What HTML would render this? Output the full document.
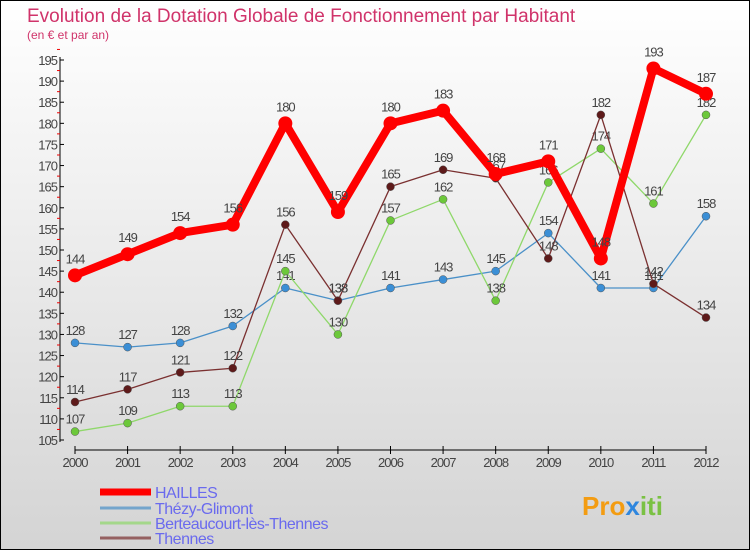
<!DOCTYPE html>
<html><head><meta charset="utf-8"><style>
body{margin:0}
svg{display:block;font-family:"Liberation Sans",sans-serif}
</style></head><body>
<svg id="c" width="750" height="550" xmlns="http://www.w3.org/2000/svg">
<defs><linearGradient id="bg" x1="0" y1="0" x2="0" y2="1"><stop offset="0" stop-color="#ffffff"/><stop offset="1" stop-color="#d4d4d4"/></linearGradient></defs>
<rect x="0.5" y="0.5" width="749" height="549" fill="url(#bg)" stroke="#000"/>
<text x="27" y="22" font-size="19" fill="#d0336a">Evolution de la Dotation Globale de Fonctionnement par Habitant</text>
<text x="27" y="39" font-size="12" fill="#d0336a">(en € et par an)</text>
<g id="axes"></g><g id="series"></g><g id="legend"></g>
<text x="582" y="515" font-size="26" font-weight="bold" fill="#f39c12">Pro<tspan fill="#2e86de">x</tspan><tspan fill="#7ac143">iti</tspan></text>
</svg>
<script>
const years=["2000","2001","2002","2003","2004","2005","2006","2007","2008","2009","2010","2011","2012"];
const hailles=[144,149,154,156,180,159,180,183,168,171,148,193,187];
const thezy=[128,127,128,132,141,138,141,143,145,154,141,141,158];
const berte=[107,109,113,113,145,130,157,162,138,166,174,161,182];
const thennes=[114,117,121,122,156,138,165,169,167,148,182,142,134];
const yTicks=[105,110,115,120,125,130,135,140,145,150,155,160,165,170,175,180,185,190,195];
const NS="http://www.w3.org/2000/svg";
const X=i=>75+i*(706-75)/12;
const Y=v=>440-(v-105)*380/90;
function el(t,a,p){const e=document.createElementNS(NS,t);for(const k in a)e.setAttribute(k,a[k]);p.appendChild(e);return e;}
const ax=document.getElementById('axes');
let l=el('line',{x1:60,y1:57,x2:60,y2:442,stroke:'#000'},ax);


yTicks.forEach(v=>{
 el('line',{x1:60,y1:Y(v),x2:64,y2:Y(v),stroke:'#000'},ax);
 el('line',{x1:57,y1:Y(v+2.5),x2:60,y2:Y(v+2.5),stroke:'#e00'},ax);
 const t=el('text',{x:57,y:Y(v)+5,'font-size':13,'text-anchor':'end',fill:'#444','letter-spacing':'-1'},ax);
 t.textContent=v;
 
 
});
l=el('line',{x1:75,y1:450,x2:706,y2:450,stroke:'#000'},ax);


years.forEach((y,i)=>{
 el('line',{x1:X(i),y1:446,x2:X(i),y2:454,stroke:'#000'},ax);
 const t=el('text',{x:X(i),y:467,'font-size':13,'text-anchor':'middle',fill:'#444','letter-spacing':'-1'},ax);
 t.textContent=y;
 
 
});
const S=[
 {n:'thezy',d:thezy,c:'#4a90c8',w:1.3,r:4,dot:'#3b8fd6',lab:'Thézy-Glimont'},
 {n:'berteaucourt',d:berte,c:'#8fd86a',w:1.3,r:4,dot:'#6cc83a',lab:'Berteaucourt-lès-Thennes'},
 {n:'thennes',d:thennes,c:'#7a3030',w:1.3,r:4,dot:'#5e1a1a',lab:'Thennes'},
 {n:'hailles',d:hailles,c:'#f00',w:8,r:7,dot:'#f00',lab:'HAILLES'}
];
const sg=document.getElementById('series');
S.forEach(s=>{
 const g=el('g',{},sg);
 
 
 const p=el('polyline',{points:s.d.map((v,i)=>X(i)+','+Y(v)).join(' '),fill:'none',stroke:s.c,'stroke-width':s.w,'stroke-linejoin':'round'},g);
 
 
 s.d.forEach((v,i)=>{
  const c=el('circle',{cx:X(i),cy:Y(v),r:s.r,fill:s.dot,stroke:s.n=='hailles'?'none':'#555','stroke-width':0.5},g);
  
  
  const t=el('text',{x:X(i),y:Y(v)-(s.n=='hailles'?12:8),'font-size':13,'text-anchor':'middle',fill:'#444','letter-spacing':'-1'},g);
  t.textContent=v;
  
  
 });
});
const lg=document.getElementById('legend');
const order=[3,0,1,2],ly=[492,508,523,538];
order.forEach((k,j)=>{
 const s=S[k];
 const g=el('g',{},lg);
 
 
 el('line',{x1:100,y1:ly[j],x2:151,y2:ly[j],stroke:s.n=='hailles'?'#f00':s.c,'stroke-width':s.n=='hailles'?7:3,opacity:s.n=='hailles'?1:0.7},g);
 const t=el('text',{x:155,y:ly[j]+6,'font-size':16,fill:'#6a6aee','letter-spacing':'-0.5'},g);
 t.textContent=s.lab;
});
</script>
</body></html>
